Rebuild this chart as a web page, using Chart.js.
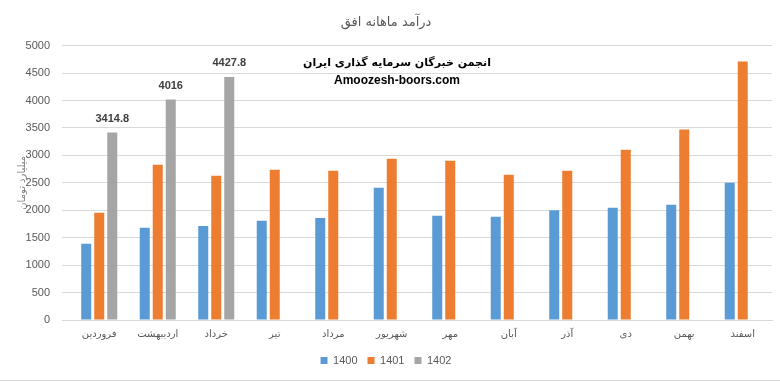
<!DOCTYPE html>
<html>
<head>
<meta charset="utf-8">
<script src="https://cdn.jsdelivr.net/npm/chart.js@4.4.0/dist/chart.umd.min.js"></script>
<style>
body{margin:0;background:#fff;}
#wrap{width:780px;height:380px;border-bottom:1px solid #d9d9d9;}
</style>
</head>
<body>
<div id="wrap"><canvas id="myChart" width="780" height="380"></canvas></div>
<script>
// months of the Persian calendar
const months = ['فروردین', 'اردیبهشت', 'خرداد', 'تیر', 'مرداد', 'شهریور', 'مهر', 'آبان', 'آذر', 'دی', 'بهمن', 'اسفند'];
const years = ['1400', '1401', '1402'];
const income1400 = [1390, 1680, 1715, 1810, 1860, 2410, 1900, 1880, 2000, 2045, 2100, 2500];
const income1401 = [1955, 2830, 2630, 2740, 2720, 2940, 2900, 2645, 2720, 3100, 3470, 4710];
const income1402 = [3414.8, 4016, 4427.8, null, null, null, null, null, null, null, null, null];
const yTicks = [0, 500, 1000, 1500, 2000, 2500, 3000, 3500, 4000, 4500, 5000];

const textColor = '#595959';
const persianFont = "'DejaVu Sans', sans-serif";
const latinFont = "'Liberation Sans', Arial, sans-serif";

// value labels over the 1402 bars + the watermark text
const labelsPlugin = {
    id: 'labels',
    afterDatasetsDraw(chart) {
        const ctx = chart.ctx;
        const meta = chart.getDatasetMeta(2);
        ctx.save();
        ctx.font = 'bold 11px ' + latinFont;
        ctx.fillStyle = '#404040';
        ctx.textAlign = 'center';
        ctx.textBaseline = 'middle';
        meta.data.forEach(function(bar, i) {
            const v = income1402[i];
            if (v === null) return;
            ctx.fillText(String(v), bar.x, bar.y - 14);
        });
        // watermark
        ctx.fillStyle = '#000';
        ctx.font = 'bold 11px ' + persianFont;
        ctx.fillText('انجمن خبرگان سرمایه گذاری ایران', 397, 63);
        ctx.font = 'bold 12px ' + latinFont;
        ctx.fillText('Amoozesh-boors.com', 397, 81);
        ctx.restore();
    }
};

const ctx = document.getElementById('myChart').getContext('2d');
const myChart = new Chart(ctx, {
    type: 'bar',
    data: {
        labels: months,
        datasets: [{
            label: years[0],
            data: income1400,
            backgroundColor: '#5b9bd5',
        }, {
            label: years[1],
            data: income1401,
            backgroundColor: '#ed7d31',
        }, {
            label: years[2],
            data: income1402,
            backgroundColor: '#a5a5a5',
        }]
    },
    options: {
        responsive: false,
        animation: false,
        categoryPercentage: 0.667,
        barPercentage: 0.77,
        layout: {
            padding: {left: 0, right: 8, top: 0, bottom: 4}
        },
        scales: {
            x: {
                afterFit(scale) {
                    scale.height += 5;
                },
                grid: {display: false},
                border: {color: '#d9d9d9'},
                ticks: {
                    color: textColor,
                    font: {family: persianFont, size: 10},
                    maxRotation: 0,
                    autoSkip: false,
                    padding: 0,
                },
            },
            y: {
                min: 0,
                max: 5000,
                afterBuildTicks(scale) {
                    scale.ticks = yTicks.map(function(v) { return {value: v}; });
                },
                afterFit(scale) {
                    scale.width = 70;
                },
                grid: {color: '#d9d9d9'},
                border: {display: false},
                ticks: {
                    color: textColor,
                    font: {family: latinFont, size: 11},
                    padding: 12,
                    callback: function(v) { return String(v); },
                },
                title: {
                    display: true,
                    text: 'میلیارد تومان',
                    color: '#7f7f7f',
                    font: {family: persianFont, size: 10},
                    padding: {top: 16, bottom: 0},
                },
            },
        },
        plugins: {
            title: {
                display: true,
                text: 'درآمد ماهانه افق',
                color: textColor,
                font: {family: persianFont, size: 13, weight: 'normal'},
                padding: {top: 15, bottom: 15},
            },
            legend: {
                position: 'bottom',
                labels: {
                    color: textColor,
                    font: {family: latinFont, size: 11},
                    boxWidth: 7,
                    boxHeight: 7,
                    padding: 10,
                },
            },
            tooltip: {enabled: false},
        }
    },
    plugins: [labelsPlugin]
});
</script>
</body>
</html>
